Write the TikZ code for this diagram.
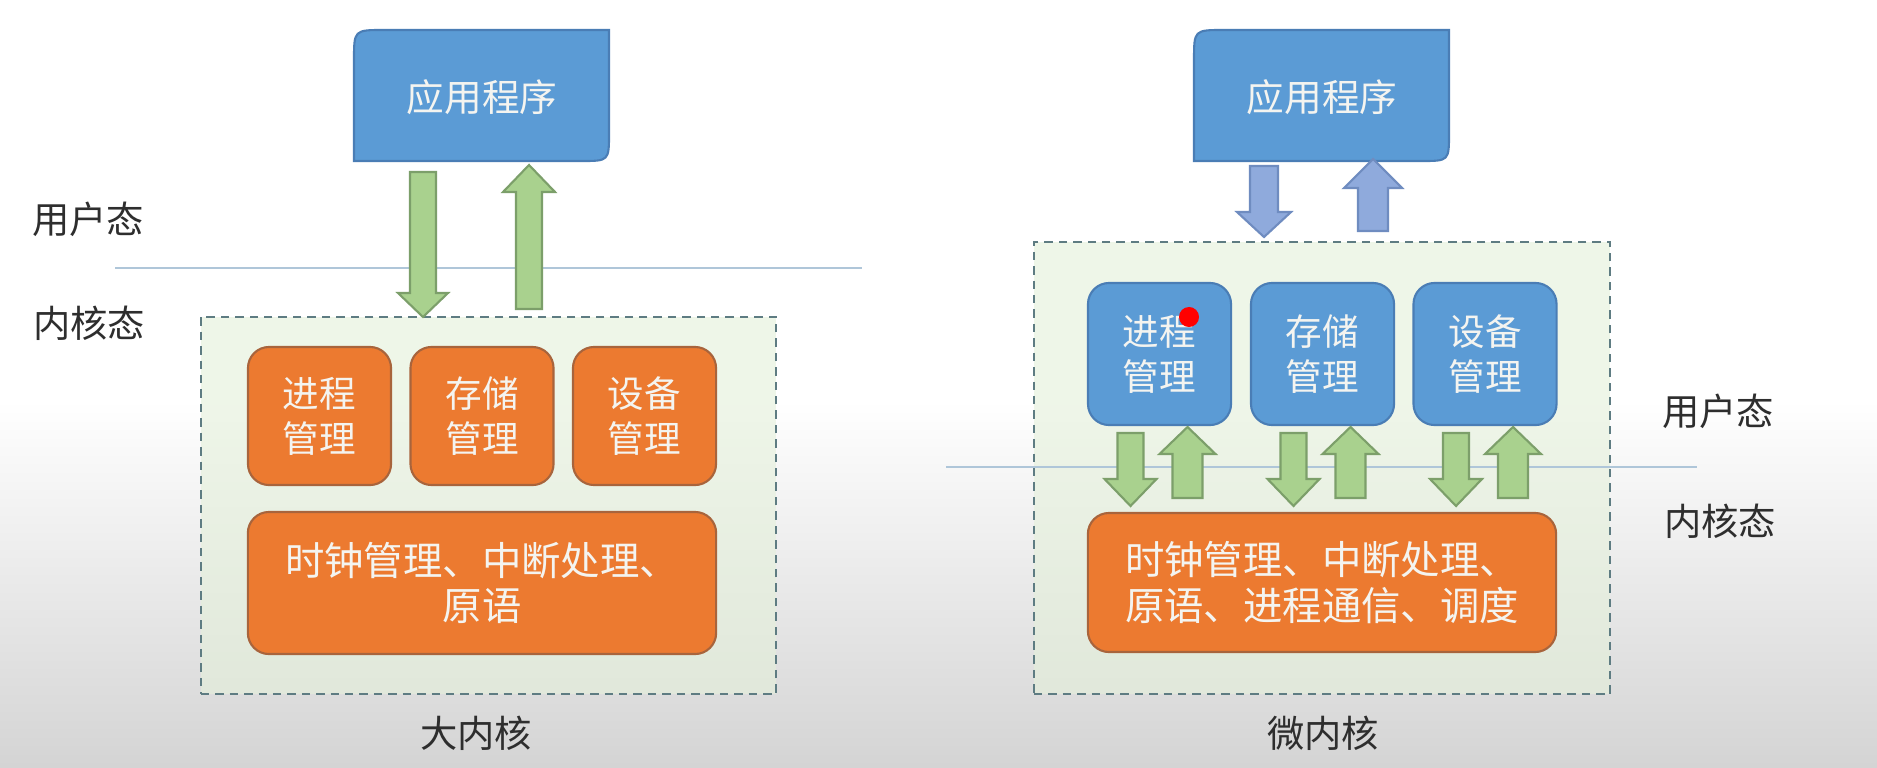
\documentclass[tikz,border=0pt]{standalone}
\usepackage{fontspec}
\setmainfont{Noto Sans CJK SC}
\definecolor{appblue}{HTML}{5B9BD5}
\definecolor{appborder}{HTML}{4A7DB5}
\definecolor{korange}{HTML}{EC7A30}
\definecolor{kborder}{HTML}{A8643C}
\definecolor{agreen}{HTML}{A9D18E}
\definecolor{agreenb}{HTML}{7C9F6A}
\definecolor{ablue}{HTML}{8FAADC}
\definecolor{abblue}{HTML}{6F8CC0}
\definecolor{dashb}{HTML}{5E7C82}
\definecolor{dashfill}{HTML}{E4F0DA}
\definecolor{sepline}{HTML}{AFC6D9}
\definecolor{labelc}{HTML}{2E2E2E}
\definecolor{bgray}{HTML}{D4D4D4}
\definecolor{boxtext}{HTML}{F4F4F0}
% block arrow: style, centre x, start y, head-base y, tip y, half shaft, half head
\newcommand{\barrow}[7]{%
  \draw[#1] (#2-#6,#3) -- (#2+#6,#3) -- (#2+#6,#4) -- (#2+#7,#4) -- (#2,#5)
    -- (#2-#7,#4) -- (#2-#6,#4) -- cycle;}
\begin{document}
\begin{tikzpicture}[x=0.01cm,y=-0.01cm,
  boxfont/.style={font=\fontsize{10.4pt}{12.8pt}\selectfont},
  lblfont/.style={font=\fontsize{10.6pt}{12.8pt}\selectfont, text=labelc},
  kbox/.style={draw=kborder, fill=korange, line width=0.6pt, rounded corners=6pt,
    text=boxtext, boxfont, align=center, inner sep=0pt, minimum width=1.43cm},
  bbox/.style={draw=appborder, fill=appblue, line width=0.6pt, rounded corners=6pt,
    text=boxtext, boxfont, align=center, inner sep=0pt, minimum width=1.43cm, minimum height=1.42cm},
  kbig/.style={kbox, font=\fontsize{11.2pt}{13pt}\selectfont, minimum width=4.68cm},
  dbox/.style={draw=dashb, fill=dashfill, fill opacity=0.6, draw opacity=1,
    line width=0.6pt, dash pattern=on 2.4pt off 1.7pt, inner sep=0pt},
  apptxt/.style={text=boxtext, font=\fontsize{10.7pt}{12.8pt}\selectfont, inner sep=0pt},
  appshape/.style={fill=appblue, draw=appborder, line width=0.6pt},
  garrow/.style={fill=agreen, draw=agreenb, line width=0.6pt, line join=miter},
  barr/.style={fill=ablue, draw=abblue, line width=0.6pt, line join=miter},
  sep/.style={draw=sepline, line width=0.5pt}]
\useasboundingbox (0,0) rectangle (1877,767);
% background
\fill[white] (0,0) rectangle (1877,401);
\shade[top color=white, bottom color=bgray] (0,400) rectangle (1877,767);

% ---------- left: monolithic kernel ----------
\coordinate (lineLa) at (115,268);
\coordinate (lineLb) at (862,268);
\draw[sep] (lineLa) -- (lineLb);
\node[lblfont] (userL) at (88,219) {用户态};
\node[lblfont] (kernL) at (89,323) {内核态};
\node[dbox, minimum width=5.75cm, minimum height=3.77cm] (dashL) at (488.5,505.5) {};
% application box
\draw[appshape] (354,161) -- (354,60) .. controls (354,30) .. (384,30) -- (609,30)
  -- (609,133) .. controls (609,161) .. (581,161) -- cycle;
\node[apptxt] (appL) at (482,97) {应用程序};
\barrow{garrow}{423}{172}{293}{317}{13}{25}
\barrow{garrow}{529}{309}{192}{165}{13}{26}
\node[kbox, minimum height=1.38cm] (procL) at (319.5,416) {进程\\管理};
\node[kbox, minimum height=1.38cm] (memL) at (482,416) {存储\\管理};
\node[kbox, minimum height=1.38cm] (devL) at (644.5,416) {设备\\管理};
\node[kbig, minimum height=1.42cm] (coreL) at (482,583) {时钟管理、中断处理、\\原语};
\node[lblfont] (bigk) at (476,733) {大内核};

% ---------- right: microkernel ----------
\node[dbox, minimum width=5.76cm, minimum height=4.52cm] (dashR) at (1322,468) {};
\coordinate (lineRa) at (946,467);
\coordinate (lineRb) at (1697,467);
\draw[sep] (lineRa) -- (lineRb);
\node[lblfont] (userR) at (1718,411) {用户态};
\node[lblfont] (kernR) at (1720,521) {内核态};
\draw[appshape] (1194,161) -- (1194,60) .. controls (1194,30) .. (1224,30) -- (1449,30)
  -- (1449,133) .. controls (1449,161) .. (1421,161) -- cycle;
\node[apptxt] (appR) at (1322,97) {应用程序};
\barrow{barr}{1264}{166}{212}{237}{14}{27}
\barrow{barr}{1373}{231}{188}{159}{15}{29}
\node[bbox] (procR) at (1159.5,354) {进程\\管理};
\node[bbox] (memR) at (1322.5,354) {存储\\管理};
\node[bbox] (devR) at (1485,354) {设备\\管理};
\foreach \c in {1159.5,1322.5,1485}{
  \barrow{garrow}{\c-29}{433}{479}{506}{13}{26}
  \barrow{garrow}{\c+28}{498}{454}{427}{15}{28}
}
\node[kbig, minimum height=1.39cm] (coreR) at (1322,582.5) {时钟管理、中断处理、\\原语、进程通信、调度};
\node[lblfont] (microk) at (1323,733) {微内核};
% pointer dot
\fill[red] (1189,317) circle[radius=0.1cm];
\end{tikzpicture}
\end{document}
